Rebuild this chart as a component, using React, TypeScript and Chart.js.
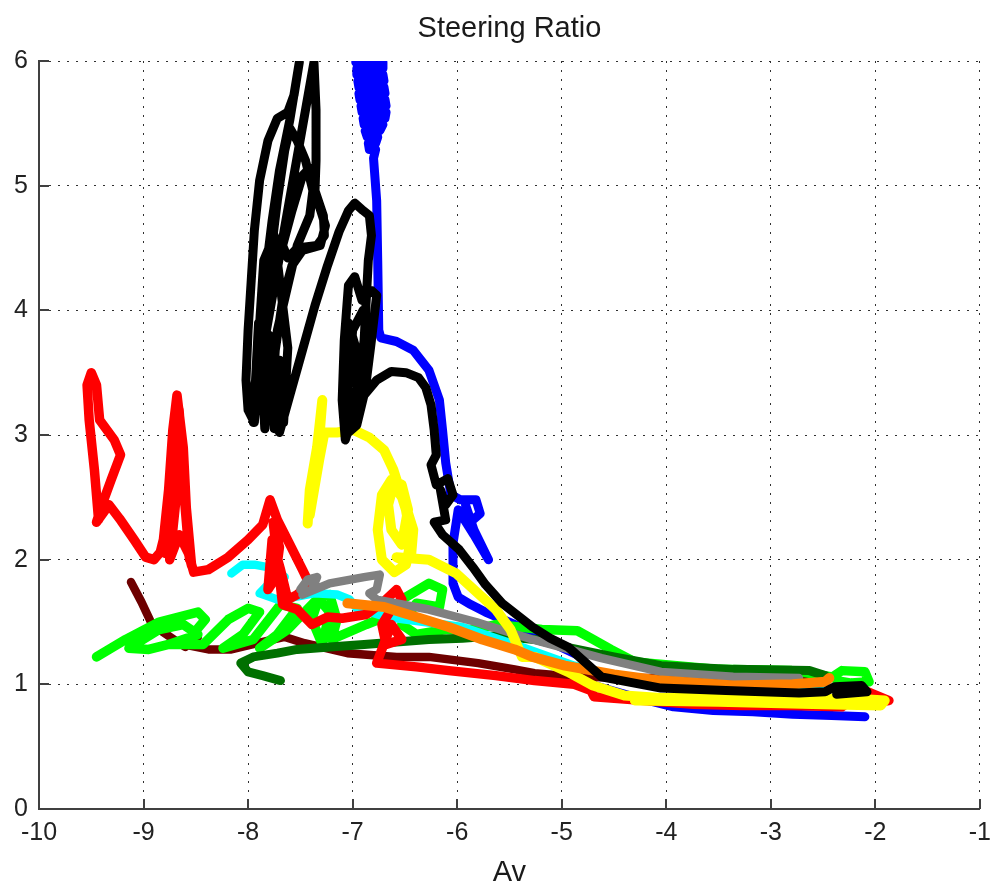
import React, { useEffect, useRef } from "react";
import { Chart, registerables } from "chart.js";

Chart.register(...registerables);

const chartTitle = "Steering Ratio";
const xAxisLabel = "Av";
const xTickValues = [-10, -9, -8, -7, -6, -5, -4, -3, -2, -1];
const yTickValues = [0, 1, 2, 3, 4, 5, 6];

type P = [number, number];

const blueTrace: P[] = [[-6.97,5.99],[-6.71,5.99],[-6.71,5.94],[-6.96,5.94],[-6.96,5.89],[-6.71,5.89],[-6.70,5.84],[-6.95,5.84],[-6.94,5.79],[-6.70,5.79],[-6.69,5.74],[-6.94,5.74],[-6.93,5.69],[-6.69,5.69],[-6.68,5.64],[-6.92,5.64],[-6.91,5.59],[-6.68,5.59],[-6.69,5.54],[-6.90,5.54],[-6.89,5.49],[-6.71,5.49],[-6.74,5.44],[-6.88,5.44],[-6.86,5.39],[-6.76,5.39],[-6.78,5.34],[-6.85,5.34],[-6.84,5.29],[-6.78,5.29],[-6.80,5.22],[-6.77,4.88],[-6.76,4.40],[-6.75,3.84],[-6.73,3.78],[-6.58,3.75],[-6.42,3.68],[-6.27,3.52],[-6.17,3.28],[-6.14,3.04],[-6.11,2.78],[-6.06,2.52],[-5.97,2.48],[-5.82,2.48],[-5.78,2.37],[-5.89,2.29],[-5.92,2.44],[-5.84,2.24],[-5.70,2.00],[-5.84,2.20],[-5.99,2.40],[-6.04,2.13],[-6.04,1.81],[-5.99,1.70],[-5.87,1.64],[-5.73,1.58],[-5.45,1.48],[-5.16,1.36],[-4.81,1.22],[-4.69,0.99],[-4.31,0.90],[-3.93,0.82],[-3.55,0.79],[-3.17,0.78],[-2.79,0.76],[-2.42,0.75],[-2.10,0.74]];

const maroonTrace: P[] = [[-9.12,1.82],[-9.02,1.66],[-8.93,1.50],[-8.85,1.44],[-8.71,1.36],[-8.60,1.30],[-8.48,1.38],[-8.62,1.32],[-8.38,1.28],[-8.16,1.28],[-7.91,1.33],[-7.65,1.38],[-7.46,1.33],[-7.05,1.25],[-6.58,1.22],[-6.27,1.22],[-5.80,1.17],[-5.45,1.12],[-5.26,1.09],[-4.88,1.06],[-4.21,1.05],[-3.55,1.06],[-2.60,1.07]];

const greenTrace: P[] = [[-9.45,1.22],[-9.17,1.36],[-8.85,1.50],[-8.48,1.58],[-8.41,1.52],[-8.57,1.36],[-8.95,1.28],[-9.14,1.29],[-8.85,1.44],[-8.62,1.48],[-8.48,1.40],[-8.76,1.32],[-8.43,1.32],[-8.19,1.52],[-8.00,1.61],[-7.89,1.58],[-8.05,1.40],[-8.24,1.29],[-7.95,1.36],[-7.69,1.64],[-7.53,1.61],[-7.72,1.40],[-7.89,1.29],[-7.62,1.44],[-7.32,1.70],[-7.39,1.52],[-7.29,1.32],[-7.22,1.58],[-7.34,1.70],[-7.22,1.72],[-7.15,1.52],[-7.20,1.36],[-6.87,1.48],[-6.63,1.56],[-6.51,1.69],[-6.27,1.81],[-6.14,1.76],[-6.17,1.62],[-6.39,1.65],[-6.53,1.48],[-6.39,1.40],[-6.11,1.44],[-5.82,1.44],[-5.63,1.48],[-5.19,1.44],[-4.85,1.43],[-4.70,1.36],[-4.53,1.28],[-4.30,1.18],[-3.50,1.12],[-2.80,1.11],[-2.41,1.06],[-2.32,1.11],[-2.10,1.10],[-2.06,1.02],[-2.23,1.01],[-2.37,1.03]];

const darkGreenTrace: P[] = [[-7.69,1.03],[-7.86,1.07],[-8.00,1.10],[-8.07,1.17],[-7.95,1.22],[-7.72,1.25],[-7.53,1.28],[-7.22,1.30],[-6.89,1.32],[-6.58,1.34],[-6.27,1.36],[-5.95,1.37],[-5.63,1.39],[-5.26,1.36],[-4.97,1.30],[-4.50,1.22],[-4.05,1.15],[-3.36,1.12],[-2.63,1.11],[-2.48,1.07]];

const cyanTrace: P[] = [[-8.16,1.89],[-8.05,1.96],[-7.94,1.96],[-7.75,1.93],[-7.65,1.86],[-7.81,1.80],[-7.89,1.73],[-7.72,1.68],[-7.56,1.70],[-7.37,1.73],[-7.15,1.72],[-7.03,1.68],[-6.96,1.61],[-6.68,1.54],[-5.95,1.46],[-5.45,1.32],[-4.88,1.15],[-4.31,1.02],[-3.74,0.97],[-2.92,0.96],[-2.51,0.96]];

const redTrace: P[] = [[-9.43,2.32],[-9.47,2.72],[-9.52,3.12],[-9.54,3.40],[-9.50,3.50],[-9.45,3.40],[-9.42,3.12],[-9.28,2.96],[-9.22,2.84],[-9.31,2.64],[-9.38,2.48],[-9.45,2.30],[-9.33,2.44],[-9.23,2.33],[-9.09,2.16],[-8.98,2.02],[-8.90,2.00],[-8.84,2.06],[-8.81,2.16],[-8.76,2.56],[-8.72,3.04],[-8.68,3.32],[-8.62,2.90],[-8.59,2.40],[-8.56,2.00],[-8.62,2.60],[-8.65,3.10],[-8.69,3.25],[-8.74,2.80],[-8.78,2.30],[-8.79,2.05],[-8.71,2.70],[-8.66,3.20],[-8.61,2.60],[-8.57,2.05],[-8.54,1.95],[-8.60,2.50],[-8.64,2.90],[-8.70,2.40],[-8.75,2.00],[-8.66,2.20],[-8.57,2.05],[-8.52,1.90],[-8.38,1.92],[-8.19,2.02],[-8.00,2.16],[-7.86,2.28],[-7.79,2.48],[-7.72,2.32],[-7.60,2.12],[-7.48,1.92],[-7.41,1.80],[-7.53,1.72],[-7.62,1.68],[-7.69,1.92],[-7.77,2.16],[-7.81,1.76],[-7.74,1.85],[-7.70,2.10],[-7.76,2.30],[-7.67,1.64],[-7.53,1.60],[-7.39,1.48],[-7.24,1.54],[-7.10,1.53],[-6.87,1.56],[-6.68,1.68],[-6.58,1.76],[-6.53,1.68],[-6.63,1.60],[-6.72,1.48],[-6.68,1.32],[-6.53,1.36],[-6.63,1.48],[-6.72,1.28],[-6.77,1.17],[-6.39,1.14],[-6.08,1.11],[-5.63,1.07],[-5.26,1.03],[-4.88,1.00],[-4.72,0.95],[-4.69,0.90],[-4.21,0.87],[-3.74,0.84],[-3.27,0.83],[-2.79,0.83],[-2.32,0.82],[-2.10,0.95],[-1.87,0.87],[-2.04,0.85]];

const grayTrace: P[] = [[-7.50,1.76],[-7.43,1.84],[-7.34,1.86],[-7.39,1.76],[-7.48,1.72],[-7.22,1.81],[-6.89,1.86],[-6.74,1.88],[-6.77,1.76],[-6.84,1.73],[-6.77,1.68],[-6.27,1.60],[-5.82,1.50],[-5.28,1.36],[-4.62,1.21],[-4.05,1.10],[-3.36,1.06],[-2.73,1.05]];

const yellowTrace: P[] = [[-7.43,2.29],[-7.41,2.56],[-7.34,2.90],[-7.29,3.28],[-7.32,2.96],[-7.39,2.64],[-7.41,2.36],[-7.32,2.80],[-7.27,3.02],[-7.15,3.02],[-6.99,3.04],[-6.84,2.98],[-6.70,2.88],[-6.61,2.72],[-6.55,2.56],[-6.49,2.40],[-6.44,2.16],[-6.49,1.96],[-6.60,1.90],[-6.72,2.00],[-6.76,2.24],[-6.72,2.52],[-6.63,2.64],[-6.53,2.60],[-6.47,2.40],[-6.53,2.12],[-6.63,2.24],[-6.66,2.44],[-6.61,2.60],[-6.51,2.48],[-6.42,2.24],[-6.44,2.04],[-6.53,2.00],[-6.58,2.02],[-6.27,2.00],[-6.01,1.89],[-5.80,1.73],[-5.63,1.60],[-5.49,1.44],[-5.38,1.22],[-5.26,1.22],[-4.94,1.10],[-4.70,0.99],[-4.40,0.91],[-4.05,0.89],[-3.40,0.89],[-2.80,0.89],[-2.10,0.88],[-1.91,0.87],[-1.95,0.83],[-2.50,0.84],[-3.50,0.86],[-4.30,0.87]];

const orangeTrace: P[] = [[-7.05,1.65],[-6.70,1.62],[-6.39,1.54],[-6.08,1.46],[-5.76,1.36],[-5.45,1.28],[-5.28,1.22],[-4.97,1.15],[-4.50,1.08],[-4.05,1.03],[-3.36,0.99],[-2.79,1.00],[-2.48,1.02],[-2.44,1.05]];

const blackTrace: P[] = [[-7.95,3.10],[-7.90,3.90],[-7.84,3.05],[-7.80,3.80],[-7.75,3.05],[-7.70,3.60],[-7.66,3.10],[-7.62,3.70],[-7.75,4.60],[-7.85,4.40],[-7.92,3.50],[-7.97,3.15],[-7.37,5.99],[-7.35,5.61],[-7.35,5.20],[-7.36,4.96],[-7.28,4.76],[-7.27,4.60],[-7.34,4.52],[-7.53,4.50],[-7.62,4.42],[-7.67,4.52],[-7.58,4.80],[-7.48,5.08],[-7.41,5.14],[-7.38,4.96],[-7.41,4.76],[-7.53,4.52],[-7.62,4.20],[-7.72,3.84],[-7.78,3.44],[-7.83,3.12],[-7.89,3.28],[-7.89,3.76],[-7.84,4.24],[-7.77,4.72],[-7.70,5.12],[-7.60,5.53],[-7.51,5.99],[-7.56,5.73],[-7.62,5.59],[-7.72,5.54],[-7.81,5.36],[-7.89,5.04],[-7.94,4.64],[-7.97,4.24],[-8.00,3.84],[-8.02,3.44],[-8.00,3.20],[-7.94,3.10],[-7.91,3.44],[-7.86,3.92],[-7.79,4.40],[-7.72,4.88],[-7.65,5.28],[-7.60,5.46],[-7.53,5.36],[-7.45,5.20],[-7.38,4.96],[-7.32,4.84],[-7.26,4.68],[-7.31,4.52],[-7.48,4.48],[-7.58,4.36],[-7.67,4.08],[-7.74,3.68],[-7.77,3.28],[-7.70,3.02],[-7.60,3.32],[-7.48,3.68],[-7.36,4.04],[-7.24,4.36],[-7.13,4.63],[-7.04,4.80],[-6.98,4.86],[-6.90,4.80],[-6.84,4.76],[-6.82,4.60],[-6.85,4.40],[-6.87,4.08],[-6.89,3.76],[-6.94,3.44],[-7.01,3.12],[-7.07,2.96],[-7.10,3.28],[-7.08,3.76],[-7.04,4.20],[-6.98,4.27],[-6.91,4.08],[-6.82,4.16],[-6.77,4.12],[-6.82,3.76],[-6.88,3.36],[-6.96,3.08],[-7.04,3.02],[-7.05,3.28],[-7.00,3.84],[-6.90,4.00],[-6.85,3.84],[-6.91,3.44],[-7.01,3.16],[-7.08,3.40],[-7.04,3.90],[-6.97,3.70],[-6.95,3.30],[-7.04,3.04],[-6.91,3.30],[-6.77,3.44],[-6.63,3.51],[-6.49,3.50],[-6.37,3.46],[-6.30,3.38],[-6.25,3.24],[-6.22,3.04],[-6.20,2.84],[-6.25,2.76],[-6.20,2.60],[-6.09,2.65],[-6.04,2.52],[-6.11,2.44],[-6.16,2.56],[-6.11,2.32],[-6.22,2.30],[-6.14,2.20],[-5.98,2.08],[-5.85,1.94],[-5.73,1.80],[-5.57,1.65],[-5.28,1.46],[-5.11,1.37],[-4.94,1.30],[-4.62,1.06],[-4.05,0.97],[-3.43,0.95],[-2.73,0.93],[-2.48,0.94],[-2.39,0.98],[-2.13,0.99],[-2.08,0.94],[-2.37,0.92]];

// bottom-to-top drawing order
const traces: { name: string; color: string; width: number; pts: P[] }[] = [
  { name: "blue", color: "#0000ff", width: 9, pts: blueTrace },
  { name: "maroon", color: "#6e0000", width: 8.5, pts: maroonTrace },
  { name: "green", color: "#00ff00", width: 9.5, pts: greenTrace },
  { name: "darkgreen", color: "#007000", width: 9, pts: darkGreenTrace },
  { name: "cyan", color: "#00ffff", width: 8.5, pts: cyanTrace },
  { name: "red", color: "#ff0000", width: 9.5, pts: redTrace },
  { name: "gray", color: "#808080", width: 8.5, pts: grayTrace },
  { name: "yellow", color: "#ffff00", width: 10, pts: yellowTrace },
  { name: "orange", color: "#ff8000", width: 10, pts: orangeTrace },
  { name: "black", color: "#000000", width: 9, pts: blackTrace },
];

const FONT = "'Liberation Sans', Arial, Helvetica, sans-serif";

const inwardTicks = {
  id: "inwardTicks",
  beforeDatasetsDraw(chart: any) {
    const { ctx, chartArea, scales } = chart;
    const len = 10;
    ctx.save();
    ctx.strokeStyle = "#404040";
    ctx.lineWidth = 2;
    ctx.beginPath();
    for (const v of xTickValues) {
      const px = Math.round(scales.x.getPixelForValue(v));
      ctx.moveTo(px, chartArea.bottom);
      ctx.lineTo(px, chartArea.bottom - len);
    }
    for (const v of yTickValues) {
      const py = Math.round(scales.y.getPixelForValue(v));
      ctx.moveTo(chartArea.left, py);
      ctx.lineTo(chartArea.left + len, py);
    }
    ctx.stroke();
    ctx.restore();
  },
};

export default function App() {
  const ref = useRef<HTMLCanvasElement | null>(null);

  useEffect(() => {
    document.body.style.margin = "0";
    const canvas = ref.current;
    if (!canvas) return;
    const n = traces.length;
    const chart = new Chart(canvas, {
      type: "scatter",
      data: {
        datasets: traces.map((t, i) => ({
          label: t.name,
          data: t.pts.map(([x, y]) => ({ x, y })),
          borderColor: t.color,
          backgroundColor: t.color,
          borderWidth: t.width,
          showLine: true,
          pointRadius: 0,
          pointHoverRadius: 0,
          tension: 0,
          fill: false,
          borderCapStyle: "round",
          borderJoinStyle: "round",
          order: n - i,
        })),
      },
      options: {
        responsive: false,
        animation: false,
        events: [],
        layout: { padding: { left: 0, right: 10, top: 0, bottom: 0 } },
        plugins: {
          legend: { display: false },
          tooltip: { enabled: false },
          title: {
            display: true,
            text: chartTitle,
            color: "#1a1a1a",
            fullSize: false,
            font: { family: FONT, size: 29, weight: "normal" },
            padding: { top: 12, bottom: 14.2 },
          },
        },
        scales: {
          x: {
            type: "linear",
            min: -10,
            max: -1,
            afterBuildTicks: (s: any) => {
              s.ticks = xTickValues.map((v) => ({ value: v }));
            },
            afterFit: (s: any) => {
              s.height = 81;
            },
            grid: { color: "#303030", lineWidth: 1, drawTicks: false },
            border: { display: true, color: "#404040", width: 2, dash: [2, 7] },
            ticks: {
              autoSkip: false,
              maxRotation: 0,
              padding: 9,
              color: "#222",
              font: { family: FONT, size: 25 },
            },
            title: {
              display: true,
              text: xAxisLabel,
              color: "#1a1a1a",
              font: { family: FONT, size: 29 },
              padding: { top: 0, bottom: 0 },
            },
          },
          y: {
            type: "linear",
            min: 0,
            max: 6,
            afterBuildTicks: (s: any) => {
              s.ticks = yTickValues.map((v) => ({ value: v }));
            },
            afterFit: (s: any) => {
              s.width = 39;
            },
            grid: { color: "#303030", lineWidth: 1, drawTicks: false },
            border: { display: true, color: "#404040", width: 2, dash: [2, 7] },
            ticks: {
              autoSkip: false,
              padding: 11,
              color: "#222",
              font: { family: FONT, size: 25 },
            },
          },
        },
      },
      plugins: [inwardTicks],
    } as any);
    return () => chart.destroy();
  }, []);

  return (
    <div style={{ width: 1000, height: 883, overflow: "hidden", background: "#fff" }}>
      <canvas ref={ref} width={1000} height={890} style={{ display: "block" }} />
    </div>
  );
}
